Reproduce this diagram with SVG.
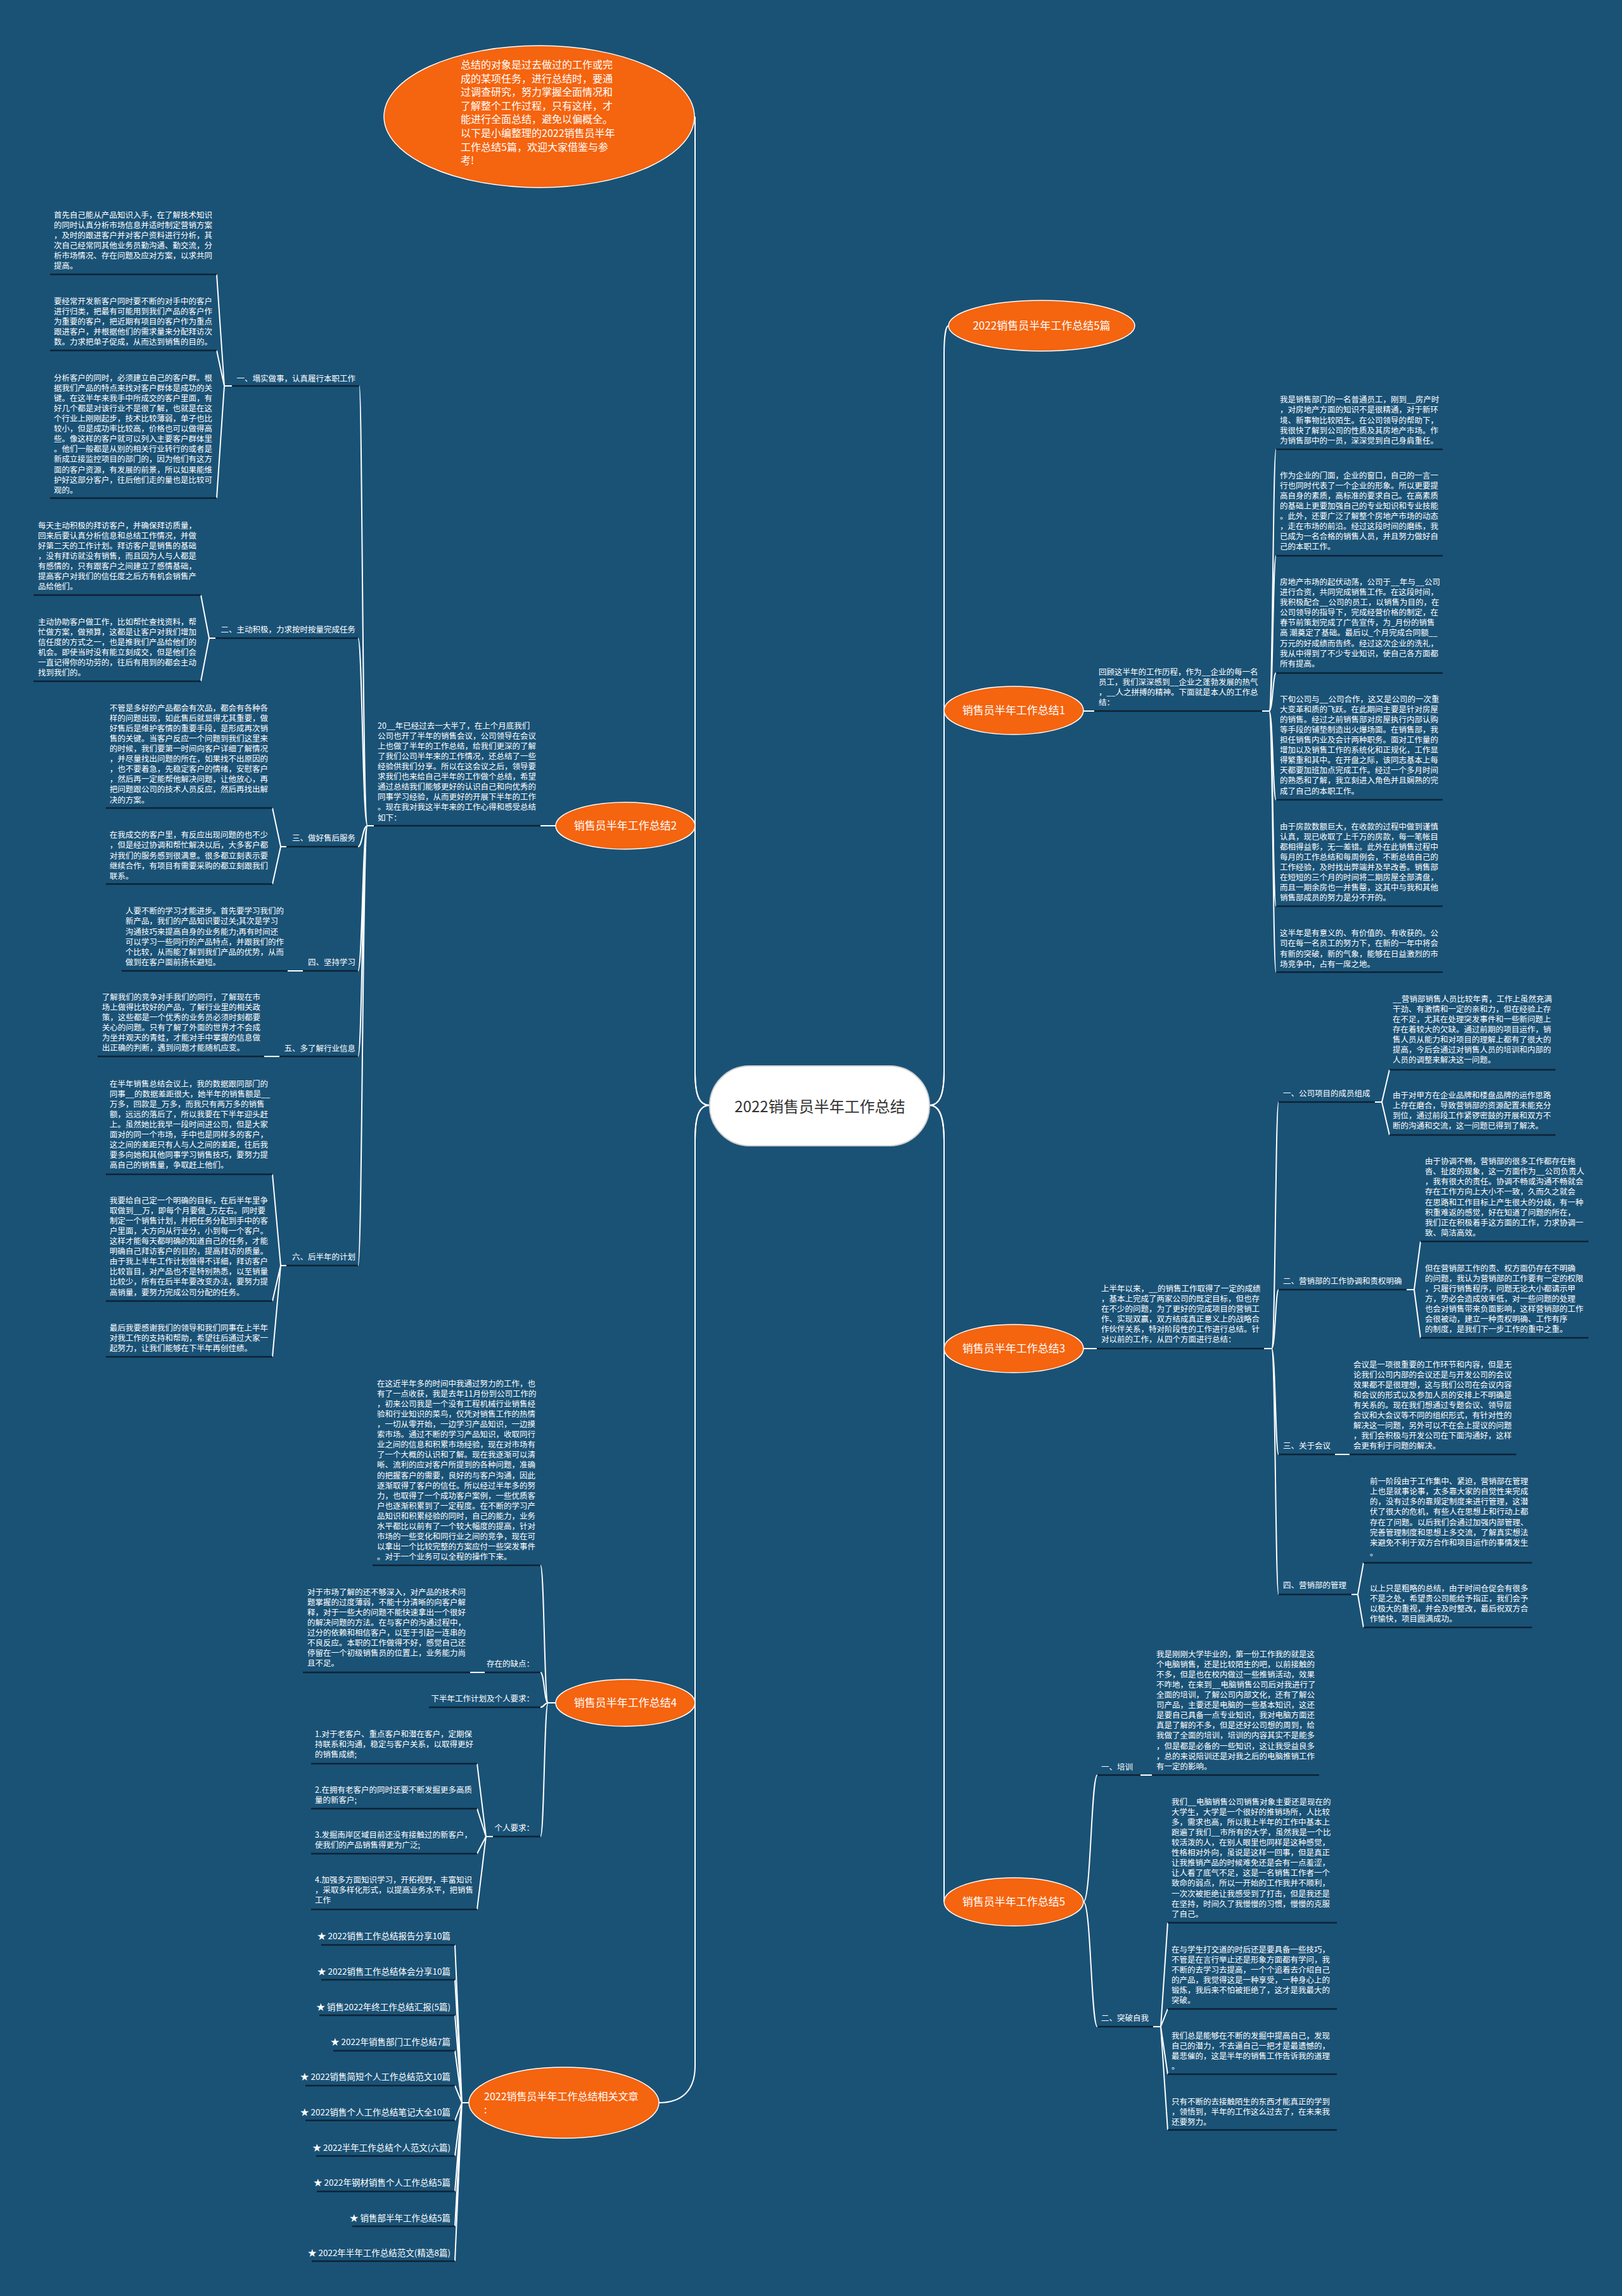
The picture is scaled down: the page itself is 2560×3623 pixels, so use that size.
<svg xmlns="http://www.w3.org/2000/svg" width="2560" height="3623" viewBox="0 0 2560 3623">
<style>
.t{font-family:"Noto Sans CJK SC","Noto Sans",sans-serif;font-size:12.5px;fill:#ffffff}
.e{text-anchor:end}
.u{stroke:#0c2335;stroke-width:2.5;fill:none}
.c{stroke:#ffffff;stroke-width:2;fill:none}
.on{fill:#f5640f;stroke:#ffffff;stroke-width:1.5}
.ot{font-family:"Noto Sans CJK SC","Noto Sans",sans-serif;font-size:17px;fill:#ffffff;text-anchor:middle}
.lk{font-family:"Noto Sans CJK SC","Noto Sans",sans-serif;font-size:13.5px;fill:#ffffff;text-anchor:end}
</style>
<rect x="0" y="0" width="2560" height="3623" fill="#1a5276"/>

<g id="connectors">
<path class="c" d="M1120,1744 C1102,1744 1097,1725 1097,1690 L1097,184"/>
<path class="c" d="M1120,1744 C1102,1744 1097,1725 1097,1690 L1097,1303"/>
<path class="c" d="M1120,1744 C1102,1744 1097,1765 1097,1800 L1097,2687"/>
<path class="c" d="M1120,1744 C1102,1744 1097,1765 1097,1800 L1097,3260 C1097,3300 1075,3318 1040,3318"/>
<path class="c" d="M1467,1744 C1484,1744 1490,1725 1490,1690 L1490,560 C1490,530 1493,514 1497,514"/>
<path class="c" d="M1467,1744 C1484,1744 1490,1725 1490,1690 L1490,1121"/>
<path class="c" d="M1467,1744 C1484,1744 1490,1765 1490,1800 L1490,2128"/>
<path class="c" d="M1467,1744 C1484,1744 1490,1765 1490,1800 L1490,3001"/>

<path class="c" d="M877,1303 L853,1303 M590,1303 L580,1303"/>
<path class="c" d="M580,1303 C572,1303 572,609 567,609 M580,1303 C572,1303 572,1007 565,1007 M580,1303 C572,1303 572,1336 565,1336 M580,1303 C572,1303 572,1532 565,1532 M580,1303 C572,1303 572,1667 565,1667 M580,1303 C572,1303 572,1997 565,1997"/>
<path class="c" d="M366,609 L354,609 L342,433 M354,609 L342,553 M354,609 L342,786"/>
<path class="c" d="M340,1007 L330,1007 L317,939 M330,1007 L317,1075"/>
<path class="c" d="M452,1336 L443,1336 L430,1275 M443,1336 L430,1395"/>
<path class="c" d="M478,1532 L454,1532 M441,1667 L417,1667"/>
<path class="c" d="M452,1997 L443,1997 L430,1853 M443,1997 L430,2053 M443,1997 L430,2141"/>

<path class="c" d="M877,2687 L865,2687 M865,2687 C859,2687 859,2470 853,2470 M865,2687 C859,2687 859,2639 853,2639 M865,2687 C859,2687 859,2694 853,2694 M865,2687 C859,2687 859,2898 853,2898"/>
<path class="c" d="M765,2639 L742,2639 M778,2898 L767,2898 L753,2783 M767,2898 L753,2854 M767,2898 L753,2925 M767,2898 L753,3013"/>

<path class="c" d="M740,3318 L729,3318 M729,3318 L718,3069 M729,3318 L718,3124 M729,3318 L718,3180 M729,3318 L718,3236 M729,3318 L718,3291 M729,3318 L718,3346 M729,3318 L718,3402 M729,3318 L718,3458 M729,3318 L718,3513 M729,3318 L718,3568"/>

<path class="c" d="M1710,1122 L1727,1122 M1992,1122 L2003,1122 M2003,1122 C2009,1122 2009,709 2014,709 M2003,1122 C2009,1122 2009,877 2014,877 M2003,1122 C2009,1122 2009,1062 2014,1062 M2003,1122 C2009,1122 2009,1262 2014,1262 M2003,1122 C2009,1122 2009,1430 2014,1430 M2003,1122 C2009,1122 2009,1534 2014,1534"/>

<path class="c" d="M1710,2128 L1731,2128 M1995,2128 L2007,2128 M2007,2128 C2013,2128 2013,1739 2018,1739 M2007,2128 C2013,2128 2013,2035 2018,2035 M2007,2128 C2013,2128 2013,2295 2018,2295 M2007,2128 C2013,2128 2013,2516 2018,2516"/>
<path class="c" d="M2170,1739 L2181,1739 L2193,1688 M2181,1739 L2193,1791"/>
<path class="c" d="M2220,2035 L2232,2035 L2242,1959 M2232,2035 L2242,2111"/>
<path class="c" d="M2107,2295 L2130,2295"/>
<path class="c" d="M2133,2516 L2143,2516 L2152,2466 M2143,2516 L2152,2568"/>

<path class="c" d="M1710,3001 C1722,3001 1722,2801 1732,2801 M1710,3001 C1722,3001 1722,3198 1732,3198"/>
<path class="c" d="M1800,2801 L1818,2801 M1820,3198 L1832,3198 L1843,3034 M1832,3198 L1843,3170 M1832,3198 L1843,3273 M1832,3198 L1843,3361"/>
</g>

<g id="underlines">
<path class="u" d="M590,1303 H853 M366,609 H567 M79,433 H342 M79,553 H342 M79,786 H342 M340,1007 H565 M53,939 H317 M53,1075 H317 M452,1336 H565 M167,1275 H430 M167,1395 H430 M478,1532 H565 M192,1532 H454 M441,1667 H565 M154,1667 H417 M452,1997 H565 M167,1853 H430 M167,2053 H430 M167,2141 H430"/>
<path class="u" d="M588,2470 H853 M765,2639 H853 M478,2639 H742 M677,2694 H853 M778,2898 H853 M491,2783 H753 M491,2854 H753 M491,2925 H753 M491,3013 H753"/>
<path class="u" d="M507,3069 H718 M507,3124 H718 M504,3180 H718 M526,3236 H718 M482,3291 H718 M482,3346 H718 M499,3402 H718 M500,3458 H718 M556,3513 H718 M492,3568 H718"/>
<path class="u" d="M1727,1122 H1992 M2014,709 H2277 M2014,877 H2277 M2014,1062 H2277 M2014,1262 H2277 M2014,1430 H2277 M2014,1534 H2277"/>
<path class="u" d="M1731,2128 H1995 M2018,1739 H2170 M2193,1688 H2455 M2193,1791 H2455 M2018,2035 H2220 M2242,1959 H2507 M2242,2111 H2507 M2018,2295 H2107 M2130,2295 H2393 M2018,2516 H2133 M2152,2466 H2418 M2152,2568 H2418"/>
<path class="u" d="M1732,2801 H1800 M1818,2801 H2082 M1732,3198 H1820 M1843,3034 H2110 M1843,3170 H2110 M1843,3273 H2110 M1843,3361 H2110"/>
</g>

<g id="center">
<rect x="1120" y="1682" width="347" height="126" rx="63" fill="#ffffff" stroke="#d0d0d0" stroke-width="2"/>
<text x="1294" y="1755" font-family="Noto Sans CJK SC, Noto Sans, sans-serif" font-size="24" fill="#333333" text-anchor="middle">2022销售员半年工作总结</text>
</g>

<g id="intro">
<ellipse class="on" cx="851" cy="184" rx="245" ry="112"/>
<text font-family="Noto Sans CJK SC, Noto Sans, sans-serif" font-size="16" fill="#ffffff" x="727" y="108">
<tspan x="727">总结的对象是过去做过的工作或完</tspan>
<tspan x="727" dy="21.6">成的某项任务，进行总结时，要通</tspan>
<tspan x="727" dy="21.6">过调查研究，努力掌握全面情况和</tspan>
<tspan x="727" dy="21.6">了解整个工作过程，只有这样，才</tspan>
<tspan x="727" dy="21.6">能进行全面总结，避免以偏概全。</tspan>
<tspan x="727" dy="21.6">以下是小编整理的2022销售员半年</tspan>
<tspan x="727" dy="21.6">工作总结5篇，欢迎大家借鉴与参</tspan>
<tspan x="727" dy="21.6">考!</tspan>
</text>
</g>

<g id="r0">
<ellipse class="on" cx="1644" cy="514" rx="147" ry="40"/>
<text class="ot" x="1644" y="520">2022销售员半年工作总结5篇</text>
</g>

<g id="l2">
<ellipse class="on" cx="987" cy="1303" rx="110" ry="37"/>
<text class="ot" x="987" y="1309">销售员半年工作总结2</text>
</g>
<g id="l2-intro">
<text class="t" x="596" y="1149.6">
<tspan x="596">20__年已经过去一大半了，在上个月底我们</tspan>
<tspan x="596" dy="16.1">公司也开了半年的销售会议，公司领导在会议</tspan>
<tspan x="596" dy="16.1">上也做了半年的工作总结，给我们更深的了解</tspan>
<tspan x="596" dy="16.1">了我们公司半年来的工作情况，还总结了一些</tspan>
<tspan x="596" dy="16.1">经验供我们分享。所以在这会议之后，领导要</tspan>
<tspan x="596" dy="16.1">求我们也来给自己半年的工作做个总结，希望</tspan>
<tspan x="596" dy="16.1">通过总结我们能够更好的认识自己和向优秀的</tspan>
<tspan x="596" dy="16.1">同事学习经验，从而更好的开展下半年的工作</tspan>
<tspan x="596" dy="16.1">。现在我对我这半年来的工作心得和感受总结</tspan>
<tspan x="596" dy="16.1">如下：</tspan>
</text>
</g>
<g id="l2-labels">
<text class="t e" x="561" y="601.6">一、塌实做事，认真履行本职工作</text>
<text class="t e" x="561" y="997.6">二、主动积极，力求按时按量完成任务</text>
<text class="t e" x="561" y="1326.6">三、做好售后服务</text>
<text class="t e" x="561" y="1522.6">四、坚持学习</text>
<text class="t e" x="561" y="1658.6">五、多了解行业信息</text>
<text class="t e" x="561" y="1987.6">六、后半年的计划</text>
</g>
<g id="l2-1a">
<text class="t" x="85" y="343.9">
<tspan x="85">首先自己能从产品知识入手，在了解技术知识</tspan>
<tspan x="85" dy="16.1">的同时认真分析市场信息并适时制定营销方案</tspan>
<tspan x="85" dy="16.1">，及时的跟进客户并对客户资料进行分析，其</tspan>
<tspan x="85" dy="16.1">次自己经常同其他业务员勤沟通、勤交流，分</tspan>
<tspan x="85" dy="16.1">析市场情况、存在问题及应对方案，以求共同</tspan>
<tspan x="85" dy="16.1">提高。</tspan>
</text>
</g>
<g id="l2-1b">
<text class="t" x="85" y="479.6">
<tspan x="85">要经常开发新客户同时要不断的对手中的客户</tspan>
<tspan x="85" dy="16.1">进行归类，把最有可能用到我们产品的客户作</tspan>
<tspan x="85" dy="16.1">为重要的客户，把近期有项目的客户作为重点</tspan>
<tspan x="85" dy="16.1">跟进客户，并根据他们的需求量来分配拜访次</tspan>
<tspan x="85" dy="16.1">数。力求把单子促成，从而达到销售的目的。</tspan>
</text>
</g>
<g id="l2-1c">
<text class="t" x="85" y="600.6">
<tspan x="85">分析客户的同时，必须建立自己的客户群。根</tspan>
<tspan x="85" dy="16.1">据我们产品的特点来找对客户群体是成功的关</tspan>
<tspan x="85" dy="16.1">键。在这半年来我手中所成交的客户里面，有</tspan>
<tspan x="85" dy="16.1">好几个都是对该行业不是很了解，也就是在这</tspan>
<tspan x="85" dy="16.1">个行业上刚刚起步，技术比较薄弱，单子也比</tspan>
<tspan x="85" dy="16.1">较小，但是成功率比较高，价格也可以做得高</tspan>
<tspan x="85" dy="16.1">些。像这样的客户就可以列入主要客户群体里</tspan>
<tspan x="85" dy="16.1">。他们一般都是从别的相关行业转行的或者是</tspan>
<tspan x="85" dy="16.1">新成立接监控项目的部门的，因为他们有这方</tspan>
<tspan x="85" dy="16.1">面的客户资源，有发展的前景，所以如果能维</tspan>
<tspan x="85" dy="16.1">护好这部分客户，往后他们走的量也是比较可</tspan>
<tspan x="85" dy="16.1">观的。</tspan>
</text>
</g>
<g id="l2-2a">
<text class="t" x="60" y="833.6">
<tspan x="60">每天主动积极的拜访客户，并确保拜访质量，</tspan>
<tspan x="60" dy="16.1">回来后要认真分析信息和总结工作情况，并做</tspan>
<tspan x="60" dy="16.1">好第二天的工作计划。拜访客户是销售的基础</tspan>
<tspan x="60" dy="16.1">，没有拜访就没有销售，而且因为人与人都是</tspan>
<tspan x="60" dy="16.1">有感情的，只有跟客户之间建立了感情基础，</tspan>
<tspan x="60" dy="16.1">提高客户对我们的信任度之后方有机会销售产</tspan>
<tspan x="60" dy="16.1">品给他们。</tspan>
</text>
</g>
<g id="l2-2b">
<text class="t" x="60" y="985.6">
<tspan x="60">主动协助客户做工作，比如帮忙查找资料，帮</tspan>
<tspan x="60" dy="16.1">忙做方案，做预算，这都是让客户对我们增加</tspan>
<tspan x="60" dy="16.1">信任度的方式之一，也是推我们产品给他们的</tspan>
<tspan x="60" dy="16.1">机会。即使当时没有能立刻成交，但是他们会</tspan>
<tspan x="60" dy="16.1">一直记得你的功劳的，往后有用到的都会主动</tspan>
<tspan x="60" dy="16.1">找到我们的。</tspan>
</text>
</g>
<g id="l2-3a">
<text class="t" x="173" y="1121.6">
<tspan x="173">不管是多好的产品都会有次品，都会有各种各</tspan>
<tspan x="173" dy="16.1">样的问题出现，如此售后就显得尤其重要，做</tspan>
<tspan x="173" dy="16.1">好售后是维护客情的重要手段，是形成再次销</tspan>
<tspan x="173" dy="16.1">售的关键。当客户反应一个问题到我们这里来</tspan>
<tspan x="173" dy="16.1">的时候，我们要第一时间向客户详细了解情况</tspan>
<tspan x="173" dy="16.1">，并尽量找出问题的所在，如果找不出原因的</tspan>
<tspan x="173" dy="16.1">，也不要着急，先稳定客户的情绪，安慰客户</tspan>
<tspan x="173" dy="16.1">，然后再一定能帮他解决问题，让他放心，再</tspan>
<tspan x="173" dy="16.1">把问题跟公司的技术人员反应，然后再找出解</tspan>
<tspan x="173" dy="16.1">决的方案。</tspan>
</text>
</g>
<g id="l2-3b">
<text class="t" x="173" y="1322.3">
<tspan x="173">在我成交的客户里，有反应出现问题的也不少</tspan>
<tspan x="173" dy="16.1">，但是经过协调和帮忙解决以后，大多客户都</tspan>
<tspan x="173" dy="16.1">对我们的服务感到很满意。很多都立刻表示要</tspan>
<tspan x="173" dy="16.1">继续合作，有项目有需要采购的都立刻跟我们</tspan>
<tspan x="173" dy="16.1">联系。</tspan>
</text>
</g>
<g id="l2-4a">
<text class="t" x="198" y="1442.3">
<tspan x="198">人要不断的学习才能进步。首先要学习我们的</tspan>
<tspan x="198" dy="16.1">新产品，我们的产品知识要过关;其次是学习</tspan>
<tspan x="198" dy="16.1">沟通技巧来提高自身的业务能力;再有时间还</tspan>
<tspan x="198" dy="16.1">可以学习一些同行的产品特点，并跟我们的作</tspan>
<tspan x="198" dy="16.1">个比较，从而能了解到我们产品的优势，从而</tspan>
<tspan x="198" dy="16.1">做到在客户面前扬长避短。</tspan>
</text>
</g>
<g id="l2-5a">
<text class="t" x="161" y="1577.6">
<tspan x="161">了解我们的竞争对手我们的同行，了解现在市</tspan>
<tspan x="161" dy="16.1">场上做得比较好的产品，了解行业里的相关政</tspan>
<tspan x="161" dy="16.1">策，这些都是一个优秀的业务员必须时刻都要</tspan>
<tspan x="161" dy="16.1">关心的问题。只有了解了外面的世界才不会成</tspan>
<tspan x="161" dy="16.1">为坐井观天的青蛙，才能对手中掌握的信息做</tspan>
<tspan x="161" dy="16.1">出正确的判断，遇到问题才能随机应变。</tspan>
</text>
</g>
<g id="l2-6a">
<text class="t" x="173" y="1714.6">
<tspan x="173">在半年销售总结会议上，我的数据跟同部门的</tspan>
<tspan x="173" dy="16.1">同事__的数据差距很大，她半年的销售额是__</tspan>
<tspan x="173" dy="16.1">万多，回款是_万多，而我只有两万多的销售</tspan>
<tspan x="173" dy="16.1">额，远远的落后了，所以我要在下半年迎头赶</tspan>
<tspan x="173" dy="16.1">上。虽然她比我早一段时间进公司，但是大家</tspan>
<tspan x="173" dy="16.1">面对的同一个市场，手中也是同样多的客户，</tspan>
<tspan x="173" dy="16.1">这之间的差距只有人与人之间的差距，往后我</tspan>
<tspan x="173" dy="16.1">要多向她和其他同事学习销售技巧，要努力提</tspan>
<tspan x="173" dy="16.1">高自己的销售量，争取赶上他们。</tspan>
</text>
</g>
<g id="l2-6b">
<text class="t" x="173" y="1898.6">
<tspan x="173">我要给自己定一个明确的目标，在后半年里争</tspan>
<tspan x="173" dy="16.1">取做到__万，即每个月要做_万左右。同时要</tspan>
<tspan x="173" dy="16.1">制定一个销售计划，并把任务分配到手中的客</tspan>
<tspan x="173" dy="16.1">户里面，大方向从行业分，小到每一个客户。</tspan>
<tspan x="173" dy="16.1">这样才能每天都明确的知道自己的任务，才能</tspan>
<tspan x="173" dy="16.1">明确自己拜访客户的目的，提高拜访的质量。</tspan>
<tspan x="173" dy="16.1">由于我上半年工作计划做得不详细，拜访客户</tspan>
<tspan x="173" dy="16.1">比较盲目，对产品也不是特别熟悉，以至销量</tspan>
<tspan x="173" dy="16.1">比较少，所有在后半年要改变办法，要努力提</tspan>
<tspan x="173" dy="16.1">高销量，要努力完成公司分配的任务。</tspan>
</text>
</g>
<g id="l2-6c">
<text class="t" x="173" y="2099.6">
<tspan x="173">最后我要感谢我们的领导和我们同事在上半年</tspan>
<tspan x="173" dy="16.1">对我工作的支持和帮助，希望往后通过大家一</tspan>
<tspan x="173" dy="16.1">起努力，让我们能够在下半年再创佳绩。</tspan>
</text>
</g>

<g id="l4">
<ellipse class="on" cx="987" cy="2687" rx="110" ry="37"/>
<text class="ot" x="987" y="2693">销售员半年工作总结4</text>
</g>
<g id="l4-a">
<text class="t" x="595" y="2187.6">
<tspan x="595">在这近半年多的时间中我通过努力的工作，也</tspan>
<tspan x="595" dy="16.1">有了一点收获，我是去年11月份到公司工作的</tspan>
<tspan x="595" dy="16.1">，初来公司我是一个没有工程机械行业销售经</tspan>
<tspan x="595" dy="16.1">验和行业知识的菜鸟，仅凭对销售工作的热情</tspan>
<tspan x="595" dy="16.1">，一切从零开始，一边学习产品知识，一边摸</tspan>
<tspan x="595" dy="16.1">索市场。通过不断的学习产品知识，收取同行</tspan>
<tspan x="595" dy="16.1">业之间的信息和积累市场经验，现在对市场有</tspan>
<tspan x="595" dy="16.1">了一个大概的认识和了解。现在我逐渐可以清</tspan>
<tspan x="595" dy="16.1">晰、流利的应对客户所提到的各种问题，准确</tspan>
<tspan x="595" dy="16.1">的把握客户的需要，良好的与客户沟通，因此</tspan>
<tspan x="595" dy="16.1">逐渐取得了客户的信任。所以经过半年多的努</tspan>
<tspan x="595" dy="16.1">力，也取得了一个成功客户案例，一些优质客</tspan>
<tspan x="595" dy="16.1">户也逐渐积累到了一定程度。在不断的学习产</tspan>
<tspan x="595" dy="16.1">品知识和积累经验的同时，自己的能力，业务</tspan>
<tspan x="595" dy="16.1">水平都比以前有了一个较大幅度的提高，针对</tspan>
<tspan x="595" dy="16.1">市场的一些变化和同行业之间的竞争，现在可</tspan>
<tspan x="595" dy="16.1">以拿出一个比较完整的方案应付一些突发事件</tspan>
<tspan x="595" dy="16.1">。对于一个业务可以全程的操作下来。</tspan>
</text>
</g>
<g id="l4-labels">
<text class="t e" x="843" y="2629.6">存在的缺点：</text>
<text class="t e" x="843" y="2684.6">下半年工作计划及个人要求：</text>
<text class="t e" x="843" y="2888.6">个人要求：</text>
</g>
<g id="l4-b">
<text class="t" x="485" y="2516.6">
<tspan x="485">对于市场了解的还不够深入，对产品的技术问</tspan>
<tspan x="485" dy="16.1">题掌握的过度薄弱，不能十分清晰的向客户解</tspan>
<tspan x="485" dy="16.1">释，对于一些大的问题不能快速拿出一个很好</tspan>
<tspan x="485" dy="16.1">的解决问题的方法。在与客户的沟通过程中，</tspan>
<tspan x="485" dy="16.1">过分的依赖和相信客户，以至于引起一连串的</tspan>
<tspan x="485" dy="16.1">不良反应。本职的工作做得不好，感觉自己还</tspan>
<tspan x="485" dy="16.1">停留在一个初级销售员的位置上，业务能力尚</tspan>
<tspan x="485" dy="16.1">且不足。</tspan>
</text>
</g>
<g id="l4-c">
<text class="t" x="497" y="2740.6">
<tspan x="497">1.对于老客户、重点客户和潜在客户，定期保</tspan>
<tspan x="497" dy="16.1">持联系和沟通，稳定与客户关系，以取得更好</tspan>
<tspan x="497" dy="16.1">的销售成绩;</tspan>
</text>
<text class="t" x="497" y="2828.6">
<tspan x="497">2.在拥有老客户的同时还要不断发掘更多高质</tspan>
<tspan x="497" dy="16.1">量的新客户;</tspan>
</text>
<text class="t" x="497" y="2899.6">
<tspan x="497">3.发掘南岸区域目前还没有接触过的新客户，</tspan>
<tspan x="497" dy="16.1">使我们的产品销售得更为广泛;</tspan>
</text>
<text class="t" x="497" y="2970.6">
<tspan x="497">4.加强多方面知识学习，开拓视野，丰富知识</tspan>
<tspan x="497" dy="16.1">，采取多样化形式，以提高业务水平，把销售</tspan>
<tspan x="497" dy="16.1">工作</tspan>
</text>
</g>

<g id="l6">
<ellipse class="on" cx="890" cy="3318" rx="150" ry="56"/>
<text font-family="Noto Sans CJK SC, Noto Sans, sans-serif" font-size="16" fill="#ffffff" x="764" y="3314">
<tspan x="764">2022销售员半年工作总结相关文章</tspan>
<tspan x="764" dy="21">:</tspan>
</text>
</g>
<g id="l6-links">
<text class="lk" x="711" y="3060">★ 2022销售工作总结报告分享10篇</text>
<text class="lk" x="711" y="3116">★ 2022销售工作总结体会分享10篇</text>
<text class="lk" x="711" y="3172">★ 销售2022年终工作总结汇报(5篇)</text>
<text class="lk" x="711" y="3227">★ 2022年销售部门工作总结7篇</text>
<text class="lk" x="711" y="3282">★ 2022销售简短个人工作总结范文10篇</text>
<text class="lk" x="711" y="3338">★ 2022销售个人工作总结笔记大全10篇</text>
<text class="lk" x="711" y="3394">★ 2022半年工作总结个人范文(六篇)</text>
<text class="lk" x="711" y="3449">★ 2022年钢材销售个人工作总结5篇</text>
<text class="lk" x="711" y="3505">★ 销售部半年工作总结5篇</text>
<text class="lk" x="711" y="3560">★ 2022年半年工作总结范文(精选8篇)</text>
</g>

<g id="r1">
<ellipse class="on" cx="1600" cy="1121" rx="110" ry="38"/>
<text class="ot" x="1600" y="1127">销售员半年工作总结1</text>
</g>
<g id="r1-intro">
<text class="t" x="1734" y="1064.6">
<tspan x="1734">回顾这半年的工作历程，作为__企业的每一名</tspan>
<tspan x="1734" dy="16.1">员工，我们深深感到__企业之蓬勃发展的热气</tspan>
<tspan x="1734" dy="16.1">，__人之拼搏的精神。下面就是本人的工作总</tspan>
<tspan x="1734" dy="16.1">结：</tspan>
</text>
</g>
<g id="r1-a">
<text class="t" x="2020" y="635.3">
<tspan x="2020">我是销售部门的一名普通员工，刚到__房产时</tspan>
<tspan x="2020" dy="16.1">，对房地产方面的知识不是很精通，对于新环</tspan>
<tspan x="2020" dy="16.1">境、新事物比较陌生。在公司领导的帮助下，</tspan>
<tspan x="2020" dy="16.1">我很快了解到公司的性质及其房地产市场。作</tspan>
<tspan x="2020" dy="16.1">为销售部中的一员，深深觉到自己身肩重任。</tspan>
</text>
</g>
<g id="r1-b">
<text class="t" x="2020" y="754.6">
<tspan x="2020">作为企业的门面，企业的窗口，自己的一言一</tspan>
<tspan x="2020" dy="16.1">行也同时代表了一个企业的形象。所以更要提</tspan>
<tspan x="2020" dy="16.1">高自身的素质，高标准的要求自己。在高素质</tspan>
<tspan x="2020" dy="16.1">的基础上更要加强自己的专业知识和专业技能</tspan>
<tspan x="2020" dy="16.1">。此外，还要广泛了解整个房地产市场的动态</tspan>
<tspan x="2020" dy="16.1">，走在市场的前沿。经过这段时间的磨练，我</tspan>
<tspan x="2020" dy="16.1">已成为一名合格的销售人员，并且努力做好自</tspan>
<tspan x="2020" dy="16.1">己的本职工作。</tspan>
</text>
</g>
<g id="r1-c">
<text class="t" x="2020" y="922.9">
<tspan x="2020">房地产市场的起伏动荡，公司于__年与__公司</tspan>
<tspan x="2020" dy="16.1">进行合资，共同完成销售工作。在这段时间，</tspan>
<tspan x="2020" dy="16.1">我积极配合__公司的员工，以销售为目的，在</tspan>
<tspan x="2020" dy="16.1">公司领导的指导下，完成经营价格的制定，在</tspan>
<tspan x="2020" dy="16.1">春节前策划完成了广告宣传，为_月份的销售</tspan>
<tspan x="2020" dy="16.1">高 潮奠定了基础。最后以_个月完成合同额__</tspan>
<tspan x="2020" dy="16.1">万元的好成绩而告终。经过这次企业的洗礼，</tspan>
<tspan x="2020" dy="16.1">我从中得到了不少专业知识，使自己各方面都</tspan>
<tspan x="2020" dy="16.1">所有提高。</tspan>
</text>
</g>
<g id="r1-d">
<text class="t" x="2020" y="1107.6">
<tspan x="2020">下旬公司与__公司合作，这又是公司的一次重</tspan>
<tspan x="2020" dy="16.1">大变革和质的飞跃。在此期间主要是针对房屋</tspan>
<tspan x="2020" dy="16.1">的销售。经过之前销售部对房屋执行内部认购</tspan>
<tspan x="2020" dy="16.1">等手段的铺垫制造出火爆场面。在销售部，我</tspan>
<tspan x="2020" dy="16.1">担任销售内业及会计两种职务。面对工作量的</tspan>
<tspan x="2020" dy="16.1">增加以及销售工作的系统化和正规化，工作显</tspan>
<tspan x="2020" dy="16.1">得繁重和其中。在开盘之际，该同志基本上每</tspan>
<tspan x="2020" dy="16.1">天都要加班加点完成工作。经过一个多月时间</tspan>
<tspan x="2020" dy="16.1">的熟悉和了解，我立刻进入角色并且娴熟的完</tspan>
<tspan x="2020" dy="16.1">成了自己的本职工作。</tspan>
</text>
</g>
<g id="r1-e">
<text class="t" x="2020" y="1308.6">
<tspan x="2020">由于房款数额巨大，在收款的过程中做到谨慎</tspan>
<tspan x="2020" dy="16.1">认真，现已收取了上千万的房款，每一笔帐目</tspan>
<tspan x="2020" dy="16.1">都相得益彰，无一差错。此外在此销售过程中</tspan>
<tspan x="2020" dy="16.1">每月的工作总结和每周例会，不断总结自己的</tspan>
<tspan x="2020" dy="16.1">工作经验，及时找出弊端并及早改善。销售部</tspan>
<tspan x="2020" dy="16.1">在短短的三个月的时间将二期房屋全部清盘，</tspan>
<tspan x="2020" dy="16.1">而且一期余房也一并售罄，这其中与我和其他</tspan>
<tspan x="2020" dy="16.1">销售部成员的努力是分不开的。</tspan>
</text>
</g>
<g id="r1-f">
<text class="t" x="2020" y="1477.3">
<tspan x="2020">这半年是有意义的、有价值的、有收获的。公</tspan>
<tspan x="2020" dy="16.1">司在每一名员工的努力下，在新的一年中将会</tspan>
<tspan x="2020" dy="16.1">有新的突破，新的气象，能够在日益激烈的市</tspan>
<tspan x="2020" dy="16.1">场竞争中，占有一席之地。</tspan>
</text>
</g>

<g id="r3">
<ellipse class="on" cx="1600" cy="2128" rx="110" ry="38"/>
<text class="ot" x="1600" y="2134">销售员半年工作总结3</text>
</g>
<g id="r3-intro">
<text class="t" x="1738" y="2037.6">
<tspan x="1738">上半年以来，__的销售工作取得了一定的成绩</tspan>
<tspan x="1738" dy="16.1">，基本上完成了两家公司的既定目标，但也存</tspan>
<tspan x="1738" dy="16.1">在不少的问题，为了更好的完成项目的营销工</tspan>
<tspan x="1738" dy="16.1">作、实现双赢，双方结成真正意义上的战略合</tspan>
<tspan x="1738" dy="16.1">作伙伴关系，特对阶段性的工作进行总结。针</tspan>
<tspan x="1738" dy="16.1">对以前的工作，从四个方面进行总结：</tspan>
</text>
</g>
<g id="r3-labels">
<text class="t" x="2025" y="1729.6">一、公司项目的成员组成</text>
<text class="t" x="2025" y="2025.6">二、营销部的工作协调和责权明确</text>
<text class="t" x="2025" y="2285.6">三、关于会议</text>
<text class="t" x="2025" y="2505.6">四、营销部的管理</text>
</g>
<g id="r3-a">
<text class="t" x="2198" y="1580.6">
<tspan x="2198">__营销部销售人员比较年青，工作上虽然充满</tspan>
<tspan x="2198" dy="16.1">干劲、有激情和一定的亲和力，但在经验上存</tspan>
<tspan x="2198" dy="16.1">在不足，尤其在处理突发事件和一些新问题上</tspan>
<tspan x="2198" dy="16.1">存在着较大的欠缺。通过前期的项目运作，销</tspan>
<tspan x="2198" dy="16.1">售人员从能力和对项目的理解上都有了很大的</tspan>
<tspan x="2198" dy="16.1">提高，今后会通过对销售人员的培训和内部的</tspan>
<tspan x="2198" dy="16.1">人员的调整来解决这一问题。</tspan>
</text>
</g>
<g id="r3-b">
<text class="t" x="2198" y="1732.6">
<tspan x="2198">由于对甲方在企业品牌和楼盘品牌的运作思路</tspan>
<tspan x="2198" dy="16.1">上存在磨合，导致营销部的资源配置未能充分</tspan>
<tspan x="2198" dy="16.1">到位，通过前段工作紧锣密鼓的开展和双方不</tspan>
<tspan x="2198" dy="16.1">断的沟通和交流，这一问题已得到了解决。</tspan>
</text>
</g>
<g id="r3-c">
<text class="t" x="2249" y="1837.1">
<tspan x="2249">由于协调不畅，营销部的很多工作都存在拖</tspan>
<tspan x="2249" dy="16.1">沓、扯皮的现象，这一方面作为__公司负责人</tspan>
<tspan x="2249" dy="16.1">，我有很大的责任。协调不畅或沟通不畅就会</tspan>
<tspan x="2249" dy="16.1">存在工作方向上大小不一致，久而久之就会</tspan>
<tspan x="2249" dy="16.1">在思路和工作目标上产生很大的分歧，有一种</tspan>
<tspan x="2249" dy="16.1">积重难返的感觉，好在知道了问题的所在，</tspan>
<tspan x="2249" dy="16.1">我们正在积极着手这方面的工作，力求协调一</tspan>
<tspan x="2249" dy="16.1">致、简洁高效。</tspan>
</text>
</g>
<g id="r3-d">
<text class="t" x="2249" y="2005.6">
<tspan x="2249">但在营销部工作的责、权方面仍存在不明确</tspan>
<tspan x="2249" dy="16.1">的问题，我认为营销部的工作要有一定的权限</tspan>
<tspan x="2249" dy="16.1">，只履行销售程序，问题无论大小都请示甲</tspan>
<tspan x="2249" dy="16.1">方，势必会造成效率低，对一些问题的处理</tspan>
<tspan x="2249" dy="16.1">也会对销售带来负面影响，这样营销部的工作</tspan>
<tspan x="2249" dy="16.1">会很被动，建立一种责权明确、工作有序</tspan>
<tspan x="2249" dy="16.1">的制度，是我们下一步工作的重中之重。</tspan>
</text>
</g>
<g id="r3-e">
<text class="t" x="2136" y="2157.6">
<tspan x="2136">会议是一项很重要的工作环节和内容，但是无</tspan>
<tspan x="2136" dy="16.1">论我们公司内部的会议还是与开发公司的会议</tspan>
<tspan x="2136" dy="16.1">效果都不是很理想，这与我们公司在会议内容</tspan>
<tspan x="2136" dy="16.1">和会议的形式以及参加人员的安排上不明确是</tspan>
<tspan x="2136" dy="16.1">有关系的。现在我们想通过专题会议、领导层</tspan>
<tspan x="2136" dy="16.1">会议和大会议等不同的组织形式，有针对性的</tspan>
<tspan x="2136" dy="16.1">解决这一问题，另外可以不在会上提议的问题</tspan>
<tspan x="2136" dy="16.1">，我们会积极与开发公司在下面沟通好，这样</tspan>
<tspan x="2136" dy="16.1">会更有利于问题的解决。</tspan>
</text>
</g>
<g id="r3-f">
<text class="t" x="2162" y="2342.1">
<tspan x="2162">前一阶段由于工作集中、紧迫，营销部在管理</tspan>
<tspan x="2162" dy="16.1">上也是就事论事，太多靠大家的自觉性来完成</tspan>
<tspan x="2162" dy="16.1">的，没有过多的靠规定制度来进行管理，这潜</tspan>
<tspan x="2162" dy="16.1">伏了很大的危机，有些人在思想上和行动上都</tspan>
<tspan x="2162" dy="16.1">存在了问题。以后我们会通过加强内部管理、</tspan>
<tspan x="2162" dy="16.1">完善管理制度和思想上多交流，了解真实想法</tspan>
<tspan x="2162" dy="16.1">来避免不利于双方合作和项目运作的事情发生</tspan>
<tspan x="2162" dy="16.1">。</tspan>
</text>
</g>
<g id="r3-g">
<text class="t" x="2162" y="2510.6">
<tspan x="2162">以上只是粗略的总结，由于时间仓促会有很多</tspan>
<tspan x="2162" dy="16.1">不是之处，希望贵公司能给予指正，我们会予</tspan>
<tspan x="2162" dy="16.1">以极大的重视，并会及时整改，最后祝双方合</tspan>
<tspan x="2162" dy="16.1">作愉快，项目圆满成功。</tspan>
</text>
</g>

<g id="r5">
<ellipse class="on" cx="1600" cy="3001" rx="110" ry="38"/>
<text class="ot" x="1600" y="3007">销售员半年工作总结5</text>
</g>
<g id="r5-labels">
<text class="t" x="1738" y="2792.6">一、培训</text>
<text class="t" x="1738" y="3188.6">二、突破自我</text>
</g>
<g id="r5-a">
<text class="t" x="1825" y="2614.6">
<tspan x="1825">我是刚刚大学毕业的，第一份工作我的就是这</tspan>
<tspan x="1825" dy="16.1">个电脑销售，还是比较陌生的吧，以前接触的</tspan>
<tspan x="1825" dy="16.1">不多，但是也在校内做过一些推销活动，效果</tspan>
<tspan x="1825" dy="16.1">不咋地，在来到__电脑销售公司后对我进行了</tspan>
<tspan x="1825" dy="16.1">全面的培训，了解公司内部文化，还有了解公</tspan>
<tspan x="1825" dy="16.1">司产品，主要还是电脑的一些基本知识，这还</tspan>
<tspan x="1825" dy="16.1">是要自己具备一点专业知识，我对电脑方面还</tspan>
<tspan x="1825" dy="16.1">真是了解的不多，但是还好公司想的周到，给</tspan>
<tspan x="1825" dy="16.1">我做了全面的培训，培训的内容其实不是能多</tspan>
<tspan x="1825" dy="16.1">，但是都是必备的一些知识，这让我受益良多</tspan>
<tspan x="1825" dy="16.1">，总的来说陪训还是对我之后的电脑推销工作</tspan>
<tspan x="1825" dy="16.1">有一定的影响。</tspan>
</text>
</g>
<g id="r5-b">
<text class="t" x="1849" y="2847.6">
<tspan x="1849">我们__电脑销售公司销售对象主要还是现在的</tspan>
<tspan x="1849" dy="16.1">大学生，大学是一个很好的推销场所，人比较</tspan>
<tspan x="1849" dy="16.1">多，需求也高，所以我上半年的工作中基本上</tspan>
<tspan x="1849" dy="16.1">跑遍了我们__市所有的大学，虽然我是一个比</tspan>
<tspan x="1849" dy="16.1">较活泼的人，在别人眼里也同样是这种感觉，</tspan>
<tspan x="1849" dy="16.1">性格相对外向，虽说是这样一回事，但是真正</tspan>
<tspan x="1849" dy="16.1">让我推销产品的时候难免还是会有一点羞涩，</tspan>
<tspan x="1849" dy="16.1">让人看了底气不足，这是一名销售工作者一个</tspan>
<tspan x="1849" dy="16.1">致命的弱点，所以一开始的工作我并不顺利，</tspan>
<tspan x="1849" dy="16.1">一次次被拒绝让我感受到了打击，但是我还是</tspan>
<tspan x="1849" dy="16.1">在坚持，时间久了我慢慢的习惯，慢慢的克服</tspan>
<tspan x="1849" dy="16.1">了自己。</tspan>
</text>
</g>
<g id="r5-c">
<text class="t" x="1849" y="3080.6">
<tspan x="1849">在与学生打交道的时后还是要具备一些技巧，</tspan>
<tspan x="1849" dy="16.1">不管是在言行举止还是形象方面都有学问，我</tspan>
<tspan x="1849" dy="16.1">不断的去学习去提高，一个个追着去介绍自己</tspan>
<tspan x="1849" dy="16.1">的产品，我觉得这是一种享受，一种身心上的</tspan>
<tspan x="1849" dy="16.1">锻炼，我后来不怕被拒绝了，这才是我最大的</tspan>
<tspan x="1849" dy="16.1">突破。</tspan>
</text>
</g>
<g id="r5-d">
<text class="t" x="1849" y="3216.6">
<tspan x="1849">我们总是能够在不断的发掘中提高自己，发现</tspan>
<tspan x="1849" dy="16.1">自己的潜力，不去逼自己一把才是最遗憾的，</tspan>
<tspan x="1849" dy="16.1">最悲催的，这是半年的销售工作告诉我的道理</tspan>
<tspan x="1849" dy="16.1">。</tspan>
</text>
</g>
<g id="r5-e">
<text class="t" x="1849" y="3320.6">
<tspan x="1849">只有不断的去接触陌生的东西才能真正的学到</tspan>
<tspan x="1849" dy="16.1">，领悟到，半年的工作这么过去了，在未来我</tspan>
<tspan x="1849" dy="16.1">还要努力。</tspan>
</text>
</g>
</svg>
